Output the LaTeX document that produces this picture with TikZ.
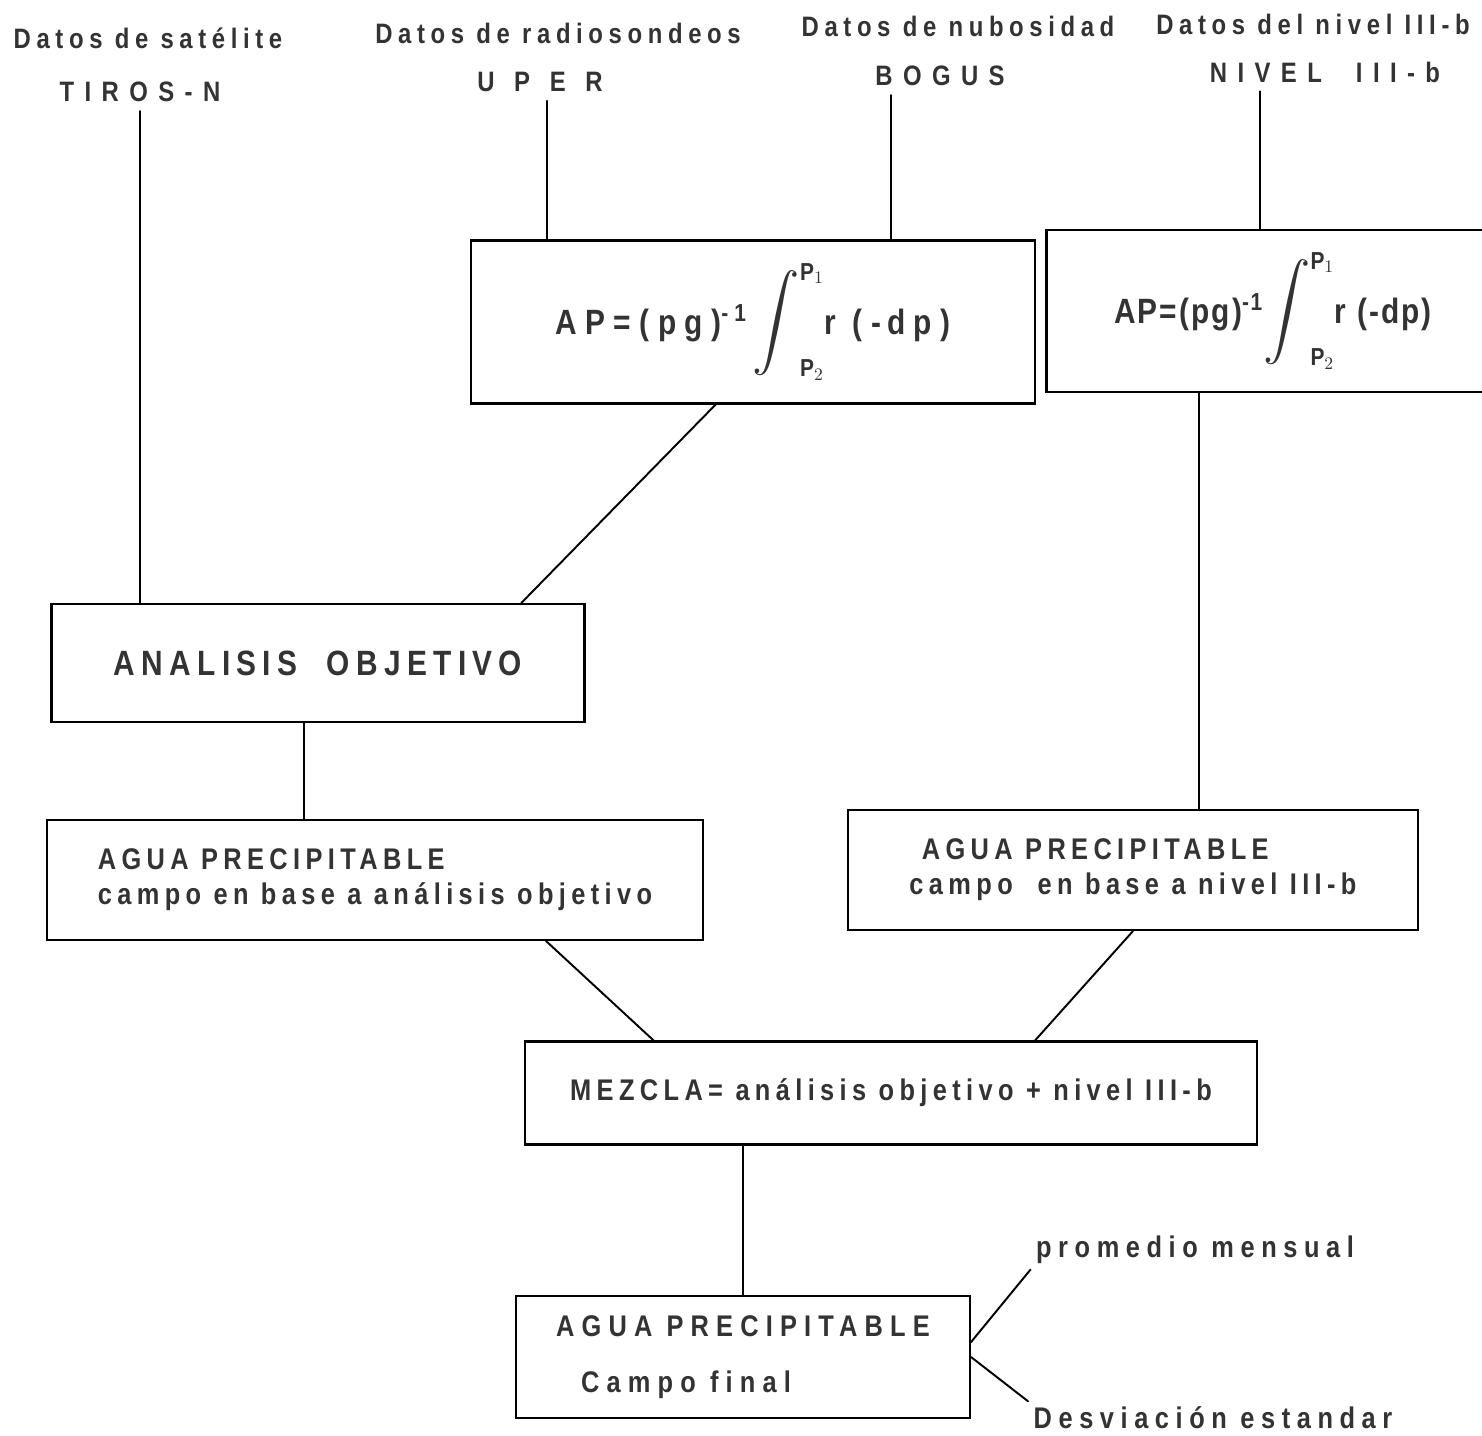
\documentclass[tikz,border=0pt]{standalone}
\usepackage{amsmath}
\usepackage{fontspec}
\setmainfont{Liberation Sans}[FakeStretch=0.85]
\usepackage{tikz}
\usetikzlibrary{calc}
\definecolor{ink}{gray}{0.2}
\tikzset{
  source/.style={font=\bfseries\fontsize{16}{18}\selectfont\addfontfeature{LetterSpace=20},
                 text=ink, inner sep=4pt},
  code/.style={font=\bfseries\fontsize{16}{18}\selectfont\addfontfeature{LetterSpace=#1},
               text=ink, inner sep=5pt},
  code/.default=37,
  box/.style={draw, line width=1.2pt, text=ink, align=left, inner sep=0pt,
              font=\bfseries\fontsize{17}{20}\selectfont\addfontfeature{LetterSpace=18}},
  formula/.style={box, font=\bfseries\fontsize{20}{24}\selectfont\addfontfeature{LetterSpace=#1}},
  note/.style={font=\bfseries\fontsize{17}{19}\selectfont\addfontfeature{LetterSpace=22},
               text=ink, inner sep=3pt},
  link/.style={line width=1.1pt, line cap=round},
}
\newcommand{\intP}{$\mathop{\scalebox{1.3}{$\displaystyle\int$}}\nolimits_{\text{P}_2}^{\text{P}_1}$}

\begin{document}
\begin{tikzpicture}[x=0.02cm, y=-0.02cm]
  \useasboundingbox (0,0) rectangle (1482,1436);
  % data sources
  \node[source] (satlab) at (148,38) {Datos de satélite};
  \node[code]   (tiros)  at (140,92) {TIROS-N};
  \node[source] (radlab) at (558,33) {Datos de radiosondeos};
  \node[code=70] (uper)  at (540,82) {UPER};
  \node[source] (nublab) at (958,26) {Datos de nubosidad};
  \node[code]   (bogus)  at (940,76) {BOGUS};
  \node[source] (nivlab) at (1313,24) {Datos del nivel III-b};
  \node[code]   (nivel)  at (1325,72) {NIVEL\ \ III-b};

  % boxes
  \node[formula=24, minimum width=11.28cm, minimum height=3.26cm] (form1) at (753,322)
    {AP=(pg)\textsuperscript{-1}\,\intP r (-\,dp)};
  \node[formula=6, minimum width=9.06cm, minimum height=3.24cm] (form2) at (1273,311)
    {AP=(pg)\textsuperscript{-1}\intP r (-dp)};
  \node[box, minimum width=10.66cm, minimum height=2.36cm,
        font=\bfseries\fontsize{20}{24}\selectfont\addfontfeature{LetterSpace=18}] (anal) at (318,663)
    {ANALISIS\ \ OBJETIVO};
  \node[box, minimum width=13.12cm, minimum height=2.4cm] (agua1) at (375,880)
    {AGUA PRECIPITABLE\\campo en base a análisis objetivo};
  \node[box, minimum width=11.4cm, minimum height=2.4cm] (agua2) at (1133,870)
    {\ AGUA\ PRECIPITABLE\\campo\ \ en base a nivel III-b};
  \node[box, minimum width=14.66cm, minimum height=2.06cm] (mezcla) at (891,1093)
    {MEZCLA= análisis objetivo + nivel III-b};
  \node[box, minimum width=9.08cm, minimum height=2.44cm,
        font=\bfseries\fontsize{17}{32}\selectfont\addfontfeature{LetterSpace=24}] (final) at (743,1357)
    {AGUA PRECIPITABLE\\\hspace{0.5cm}Campo final};
  \node[note] (prom) at (1195,1250) {promedio mensual};
  \node[note] (desv) at (1213,1418) {Desviación estandar};

  % connectors
  \draw[link] (tiros.south) -- (tiros.south |- anal.north);
  \draw[link] ($(uper.south west)!0.55!(uper.south east)$) coordinate (u) -- (u |- form1.north);
  \draw[link] ($(bogus.south west)!0.17!(bogus.south east)$) coordinate (b) -- (b |- form1.north);
  \draw[link] ($(nivel.south west)!0.24!(nivel.south east)$) coordinate (n) -- (n |- form2.north);
  \draw[link] ($(form1.south west)!0.434!(form1.south east)$) -- ($(anal.north west)!0.88!(anal.north east)$);
  \draw[link] ($(form2.south west)!0.338!(form2.south east)$) coordinate (f) -- (f |- agua2.north);
  \draw[link] ($(anal.south west)!0.473!(anal.south east)$) coordinate (a) -- (a |- agua1.north);
  \draw[link] ($(agua1.south west)!0.76!(agua1.south east)$) -- ($(mezcla.north west)!0.177!(mezcla.north east)$);
  \draw[link] (agua2.south) -- ($(mezcla.north west)!0.696!(mezcla.north east)$);
  \draw[link] (final.north |- mezcla.south) -- (final.north);
  \draw[link] ($(final.north east)!0.38!(final.south east)$) -- (prom.south west);
  \draw[link] (final.east) -- (desv.north west);
\end{tikzpicture}
\end{document}
